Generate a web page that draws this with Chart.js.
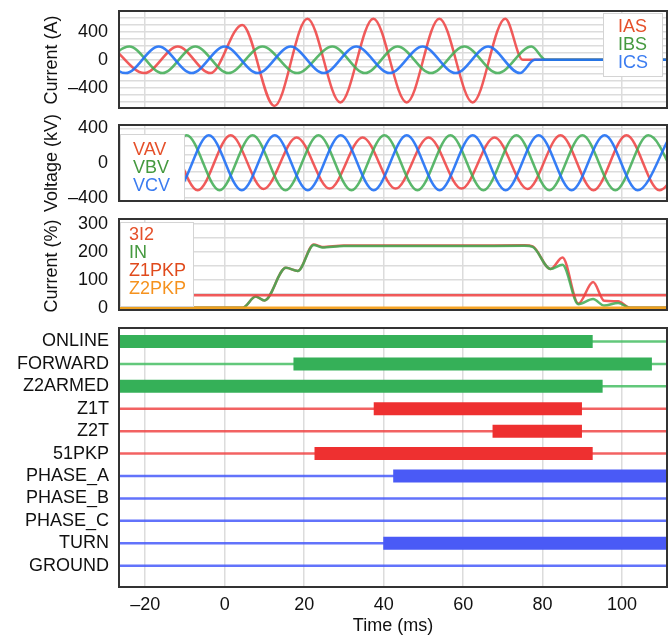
<!DOCTYPE html>
<html>
<head>
<meta charset="utf-8">
<script src="https://cdn.jsdelivr.net/npm/chart.js@4.4.1/dist/chart.umd.min.js"></script>
<style>
body { margin: 0; background: #fff; }
#wrap { position: relative; width: 670px; height: 635px; overflow: hidden; }
#wrap canvas { position: absolute; left: 0; }
.ytitle { position: absolute; font: 18px "Liberation Sans", Arial, sans-serif; color: #111; white-space: nowrap;
  transform: translate(-50%, -50%) rotate(-90deg); }
</style>
</head>
<body>
<div id="wrap">
  <canvas id="cur" width="670" height="118" style="top:0"></canvas>
  <canvas id="volt" width="670" height="94" style="top:118px"></canvas>
  <canvas id="pct" width="670" height="106" style="top:212px"></canvas>
  <canvas id="dig" width="670" height="317" style="top:318px"></canvas>
  <div class="ytitle" style="left:51px;top:60px">Current (A)</div>
  <div class="ytitle" style="left:51px;top:163px">Voltage (kV)</div>
  <div class="ytitle" style="left:51px;top:266px">Current (%)</div>
</div>
<script>
const FONT = '"Liberation Sans", Arial, sans-serif';
const timeTicks = [-20, 0, 20, 40, 60, 80, 100];
const tMin = -26.6, tMax = 111.3;

// currents (A): times of peaks/troughs and their values
const iasT = [-28.4, -20.2, -11.8, -3.6, 4.4, 12.5, 20.8, 29.1, 37.4, 45.8, 54.0, 62.4, 70.6, 75.0, 115];
const iasV = [190, -190, 190, -190, 500, -660, 590, -610, 590, -610, 590, -610, 590, 0, 0];
const ibsT = [-32.3, -24.0, -15.7, -7.4, 0.9, 9.5, 18.2, 27.1, 35.3, 43.5, 51.9, 60.3, 68.7, 77.2, 80.8, 115];
const ibsV = [-190, 190, -190, 190, -190, 190, -190, 190, -190, 190, -190, 190, -190, 190, 0, 0];
const icsT = [-33.2, -24.9, -16.6, -8.3, 0.0, 8.3, 16.6, 24.9, 33.1, 41.5, 49.8, 58.1, 66.3, 74.3, 78.0, 115];
const icsV = [190, -190, 190, -190, 190, -190, 190, -190, 190, -190, 190, -190, 190, -190, 0, 0];

// voltages (kV)
const vavT = [-31.7, -23.4, -15.1, -6.8, 1.5, 9.8, 18.1, 26.4, 34.7, 43.0, 51.3, 59.6, 67.9, 76.2, 84.5, 92.8, 101.1, 109.4, 117.7];
const vavV = [320, -315, 320, -315, 320, -300, 295, -295, 295, -295, 295, -295, 295, -300, 320, -315, 320, -315, 320];
const vbvT = [-34.5, -26.2, -17.9, -9.6, -1.3, 7.0, 15.3, 23.6, 31.9, 40.2, 48.5, 56.8, 65.1, 73.4, 81.7, 90.0, 98.3, 106.6, 114.9];
const vbvV = [-315, 320, -315, 320, -315, 320, -315, 320, -315, 320, -315, 320, -315, 320, -315, 320, -315, 320, -315];
const vcvT = [-37.2, -28.9, -20.6, -12.3, -4.0, 4.3, 12.6, 20.9, 29.2, 37.5, 45.8, 54.1, 62.4, 70.7, 79.0, 87.3, 95.6, 103.9, 112.2];
const vcvV = [320, -315, 320, -315, 320, -315, 320, -315, 320, -315, 320, -315, 320, -315, 320, -315, 320, -315, 320];

// sequence / residual currents (%)
const seqT = [-30, 4.5, 7.8, 10.0, 15.4, 18.4, 22.4, 24.5, 30, 45, 60, 75.5, 77.5, 82, 85, 89, 92.7, 95.5, 99, 102, 115];
const i2V  = [0, 0, 40, 26, 143, 132, 227, 218, 223, 223, 223, 224, 220, 139, 180, 15, 92, 25, 23, 0, 0];
const inV  = [0, 0, 40, 26, 143, 132, 225, 216, 221, 221, 221, 222, 218, 139, 154, 13, 31, 8, 17, 0, 0];
const z1pkp = 45;
const z2pkp = 0;

// digital elements
const signals = ['ONLINE', 'FORWARD', 'Z2ARMED', 'Z1T', 'Z2T', '51PKP', 'PHASE_A', 'PHASE_B', 'PHASE_C', 'TURN', 'GROUND'];
const onStart = [-30, 17.3, -30, 37.5, 67.4, 22.6, 42.4, null, null, 39.9, null];
const onEnd   = [92.6, 107.5, 95.1, 89.9, 89.9, 92.6, 115, null, null, 115, null];
const sigGroup = ['g', 'g', 'g', 'r', 'r', 'r', 'b', 'b', 'b', 'b', 'b'];

const RED = 'rgba(238,62,62,0.85)', GREEN = 'rgba(62,172,82,0.85)', BLUE = 'rgba(32,112,245,0.9)';
const pts = (t, v) => t.map((x, i) => ({x, y: v[i]}));

const framePlugin = {
  id: 'frame',
  afterDatasetsDraw(chart, args, o) {
    const {ctx, chartArea: a} = chart;
    ctx.save();
    if (o.box) {
      const b = o.box;
      ctx.fillStyle = '#fff';
      ctx.fillRect(b.x, b.y, b.w, b.h);
      ctx.strokeStyle = '#d4d4d4';
      ctx.lineWidth = 1;
      ctx.strokeRect(b.x + 0.5, b.y + 0.5, b.w - 1, b.h - 1);
      ctx.font = '18px ' + FONT;
      ctx.textBaseline = 'middle';
      o.items.forEach((it, i) => {
        ctx.fillStyle = it[1];
        ctx.fillText(it[0], b.tx, b.ty + i * 18);
      });
    }
    ctx.strokeStyle = '#333';
    ctx.lineWidth = 2;
    ctx.strokeRect(a.left, a.top, a.width, a.height);
    ctx.restore();
  }
};

const noPad = s => { s.paddingTop = 0; s.paddingBottom = 0; s.paddingLeft = 0; s.paddingRight = 0; };

function xAxis(labels) {
  return {
    type: 'linear', min: tMin, max: tMax,
    afterBuildTicks: s => { s.ticks = timeTicks.map(v => ({value: v})); },
    afterFit: s => { s.height = labels ? 48 : 0; noPad(s); },
    border: {display: false},
    grid: {color: '#dcdcdc', lineWidth: 1.5, drawTicks: false},
    ticks: {display: labels, autoSkip: false, padding: 7, color: '#111', font: {size: 18, family: FONT},
      callback: v => v < 0 ? '\u2013' + (-v) : String(v)},
    title: {display: labels, text: 'Time (ms)', color: '#111', font: {size: 18, family: FONT, lineHeight: 1.0},
      padding: {top: 0, bottom: 0}}
  };
}

function yAxis(min, max, grid, labels) {
  return {
    type: 'linear', min, max,
    afterBuildTicks: s => { s.ticks = grid.map(v => ({value: v})); },
    afterFit: s => { s.width = 119; noPad(s); },
    border: {display: false},
    grid: {color: '#dcdcdc', lineWidth: 1.5, drawTicks: false},
    ticks: {autoSkip: false, padding: 11, color: '#111', font: {size: 18, family: FONT},
      callback: v => labels.includes(v) ? (v < 0 ? '\u2013' + (-v) : String(v)) : ''}
  };
}

function line(label, data, color, order) {
  return {label, data, borderColor: color, borderWidth: 2.5, pointRadius: 0, fill: false,
    cubicInterpolationMode: 'monotone', clip: 0, order};
}

const base = (padding, box) => ({
  responsive: false, animation: false, parsing: true,
  layout: {padding},
  plugins: {legend: {display: false}, tooltip: {enabled: false}, frame: box}
});

new Chart(document.getElementById('cur'), {
  type: 'line',
  data: {datasets: [
    line('IAS', pts(iasT, iasV), RED, 3),
    line('IBS', pts(ibsT, ibsV), GREEN, 2),
    line('ICS', pts(icsT, icsV), BLUE, 1)
  ]},
  options: Object.assign(base({top: 11, bottom: 10, right: 3, left: 0}, {
    box: {x: 603, y: 13, w: 60, h: 64, tx: 618, ty: 27},
    items: [['IAS', '#e5502a'], ['IBS', '#45993f'], ['ICS', '#3b7cf0']]
  }), {scales: {
    x: xAxis(false),
    y: yAxis(-690, 700, [-600, -500, -400, -300, -200, -100, 0, 100, 200, 300, 400, 500, 600], [-400, 0, 400])
  }}),
  plugins: [framePlugin]
});

new Chart(document.getElementById('volt'), {
  type: 'line',
  data: {datasets: [
    line('VAV', pts(vavT, vavV), RED, 3),
    line('VBV', pts(vbvT, vbvV), GREEN, 2),
    line('VCV', pts(vcvT, vcvV), BLUE, 1)
  ]},
  options: Object.assign(base({top: 7, bottom: 11, right: 3, left: 0}, {
    box: {x: 120, y: 16, w: 65, h: 67, tx: 133, ty: 32},
    items: [['VAV', '#e5502a'], ['VBV', '#45993f'], ['VCV', '#3b7cf0']]
  }), {scales: {
    x: xAxis(false),
    y: yAxis(-440, 440, [-400, -300, -200, -100, 0, 100, 200, 300, 400], [-400, 0, 400])
  }}),
  plugins: [framePlugin]
});

new Chart(document.getElementById('pct'), {
  type: 'line',
  data: {datasets: [
    line('3I2', pts(seqT, i2V), RED, 4),
    line('IN', pts(seqT, inV), GREEN, 3),
    line('Z1PKP', [{x: -30, y: z1pkp}, {x: 115, y: z1pkp}], RED, 2),
    line('Z2PKP', [{x: -30, y: z2pkp}, {x: 115, y: z2pkp}], 'rgba(245,160,30,0.95)', 1)
  ]},
  options: Object.assign(base({top: 7, bottom: 8, right: 3, left: 0}, {
    box: {x: 120, y: 10, w: 74, h: 85, tx: 129, ty: 23},
    items: [['3I2', '#e5502a'], ['IN', '#45993f'], ['Z1PKP', '#e04a1c'], ['Z2PKP', '#f5921e']]
  }), {scales: {
    x: xAxis(false),
    y: yAxis(-8, 318, [0, 50, 100, 150, 200, 250, 300], [0, 100, 200, 300])
  }}),
  plugins: [framePlugin]
});

const THIN = {g: 'rgba(70,190,100,0.85)', r: 'rgba(240,70,70,0.85)', b: 'rgba(70,90,250,0.85)'};
const THICK = {g: '#35b058', r: '#ee3030', b: '#4a5af6'};
const digSets = [];
signals.forEach((name, i) => {
  const g = sigGroup[i];
  if (onStart[i] !== null) {
    digSets.push({label: name + ' on', data: [{x: onStart[i], y: i}, {x: onEnd[i], y: i}],
      borderColor: THICK[g], borderWidth: 13, borderCapStyle: 'butt', pointRadius: 0, clip: 0, order: 1});
  }
  digSets.push({label: name, data: [{x: -30, y: i}, {x: 115, y: i}],
    borderColor: THIN[g], borderWidth: 2.5, pointRadius: 0, clip: 0, order: 2});
});

new Chart(document.getElementById('dig'), {
  type: 'line',
  data: {datasets: digSets},
  options: Object.assign(base({top: 10, bottom: 0, right: 3, left: 0}, {}), {scales: {
    x: xAxis(true),
    y: {
      type: 'linear', min: -0.6, max: 10.95, reverse: true,
      afterBuildTicks: s => { s.ticks = signals.map((n, i) => ({value: i})); },
      afterFit: s => { s.width = 119; noPad(s); },
      border: {display: false},
      grid: {display: false, drawTicks: false},
      ticks: {autoSkip: false, padding: 10, color: '#111', font: {size: 18, family: FONT},
        callback: v => signals[v]}
    }
  }}),
  plugins: [framePlugin]
});
</script>
</body>
</html>
